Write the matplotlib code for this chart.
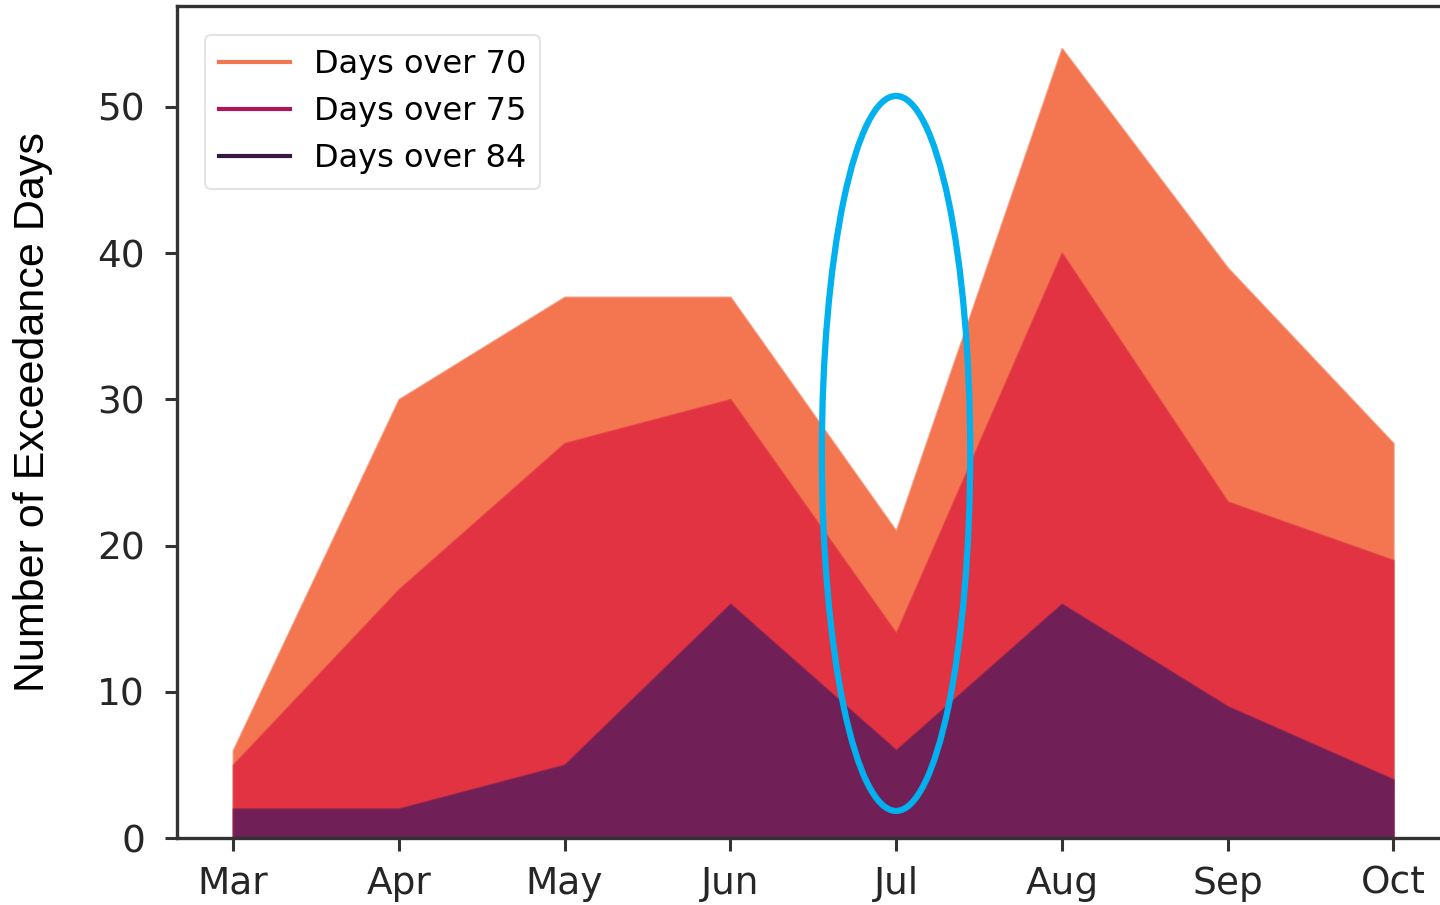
import matplotlib
matplotlib.use("Agg")
import matplotlib.pyplot as plt
from matplotlib.lines import Line2D
from matplotlib.patches import Ellipse
import numpy as np

# monthly exceedance counts
months = ["Mar", "Apr", "May", "Jun", "Jul", "Aug", "Sep", "Oct"]
over_70 = [6, 30, 37, 37, 21, 54, 39, 27]
over_75 = [5, 17, 27, 30, 14, 40, 23, 19]
over_84 = [2, 2, 5, 16, 6, 16, 9, 4]

labels = ["Days over 70", "Days over 75", "Days over 84"]
fill_colors = ["#f37651", "#e13342", "#701f57"]
line_colors = ["#f37651", "#ad1759", "#35193e"]

x = np.arange(len(months))

fig = plt.figure(figsize=(14.4, 9.05), dpi=100)
ax = fig.add_axes([177 / 1440, 1 - 838 / 905, (1448 - 177) / 1440, (838 - 6) / 905])

for series, c in zip([over_70, over_75, over_84], fill_colors):
    ax.fill_between(x, series, color=c, lw=1.5, edgecolor=c + "99")

# highlight July
ell = Ellipse((4, 26.3), width=0.895, height=48.9, fill=False,
              edgecolor="#00b0ef", lw=4.5, zorder=5)
ax.add_patch(ell)

ax.set_xlim(-0.338, 7.33)
ax.set_ylim(0, 56.9)
ax.set_xticks(x)
ax.set_xticklabels(months)
ax.set_yticks([0, 10, 20, 30, 40, 50])

for s in ax.spines.values():
    s.set_color("#333333")
    s.set_linewidth(2.4)
ax.tick_params(axis="both", labelsize=27, colors="#333333", labelcolor="#262626",
               length=9, width=2.2)
ax.tick_params(axis="x", pad=11)
ax.tick_params(axis="y", pad=14)

handles = [Line2D([], [], color=c, lw=3) for c in line_colors]
leg = ax.legend(handles, labels, loc="upper left", fontsize=23,
                bbox_to_anchor=(0.022, 0.965), borderaxespad=0, handlelength=2.2,
                handletextpad=0.75, labelspacing=0.5, borderpad=0.45,
                frameon=True, fancybox=True)
leg.get_frame().set_edgecolor("#dddddd")
leg.get_frame().set_linewidth(1.5)

fig.text(33 / 1440, 1 - 412 / 905, "Number of Exceedance Days", rotation=90,
         ha="center", va="center", fontsize=31, family="Liberation Sans", color="black")

fig.savefig("out.png", dpi=100)
